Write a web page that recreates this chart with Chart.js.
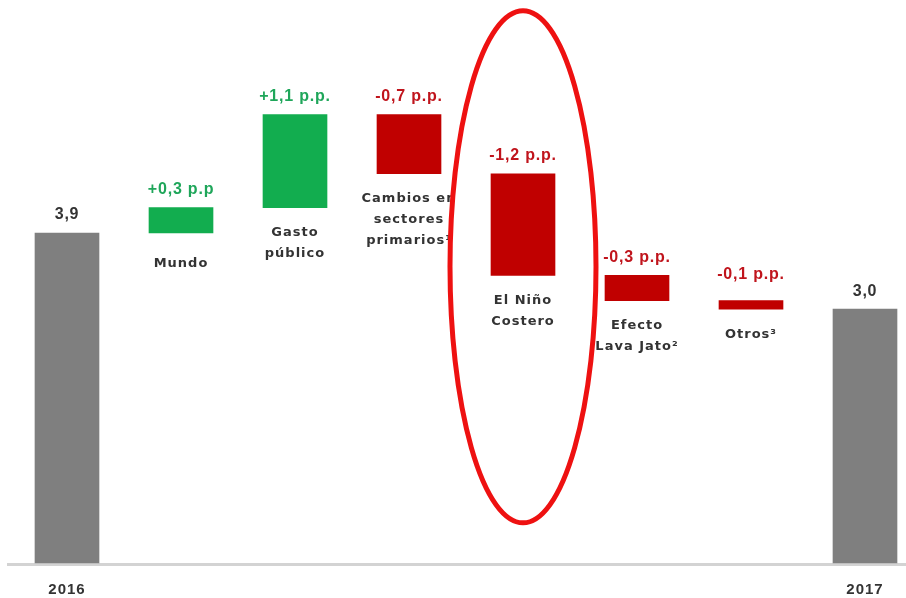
<!DOCTYPE html>
<html>
<head>
<meta charset="utf-8">
<script src="https://cdn.jsdelivr.net/npm/chart.js@4"></script>
<style>
  html, body { margin: 0; padding: 0; background: #fff; }
  #wrap { width: 906px; height: 598px; }
</style>
</head>
<body>
<div id="wrap"><canvas id="myChart" width="906" height="598"></canvas></div>
<script>
// waterfall data
const categories = ["2016", "Mundo", "Gasto público", "Cambios en sectores primarios", "El Niño Costero", "Efecto Lava Jato", "Otros", "2017"];
const startValue = 3.9;
const changes = [0.3, 1.1, -0.7, -1.2, -0.3, -0.1];
const endValue = 3.0;
const valueLabels = ["3,9", "+0,3 p.p", "+1,1 p.p.", "-0,7 p.p.", "-1,2 p.p.", "-0,3 p.p.", "-0,1 p.p.", "3,0"];
const nameLabels = [
  [],
  ["Mundo"],
  ["Gasto", "público"],
  ["Cambios en", "sectores", "primarios¹"],
  ["El Niño", "Costero"],
  ["Efecto", "Lava Jato²"],
  ["Otros³"],
  []
];
const highlighted = 4;

// build floating bars
const ranges = [[0, startValue]];
let running = startValue;
changes.forEach((c) => {
  ranges.push([running, running + c]);
  running += c;
});
ranges.push([0, endValue]);

const colors = ranges.map((r, i) => {
  if (i === 0 || i === ranges.length - 1) return "#7f7f7f";
  return r[1] > r[0] ? "#12ad4f" : "#c00000";
});
const textColors = ranges.map((r, i) => {
  if (i === 0 || i === ranges.length - 1) return "#333333";
  return r[1] > r[0] ? "#1fa65a" : "#c0141c";
});

const labelPlugin = {
  id: "labels",
  beforeDatasetsDraw(chart) {
    const ctx = chart.ctx;
    const y = chart.scales.y;
    const y0 = y.getPixelForValue(0);
    ctx.save();
    ctx.fillStyle = "#d3d3d3";
    ctx.fillRect(7, y0, 899, 3);
    ctx.restore();
  },
  afterDatasetsDraw(chart) {
    const ctx = chart.ctx;
    const x = chart.scales.x;
    const y = chart.scales.y;
    ctx.save();
    ctx.textAlign = "center";
    ctx.textBaseline = "middle";
    ranges.forEach((r, i) => {
      const cx = x.getPixelForValue(i);
      const top = y.getPixelForValue(Math.max(r[0], r[1]));
      const bottom = y.getPixelForValue(Math.min(r[0], r[1]));
      ctx.font = "bold 16px 'Liberation Sans', Arial, sans-serif";
      ctx.letterSpacing = "0.8px";
      ctx.fillStyle = textColors[i];
      const lift = i === 6 ? 26 : 18;
      ctx.fillText(valueLabels[i], cx, top - lift);
      ctx.font = "bold 13px 'DejaVu Sans', Verdana, sans-serif";
      ctx.letterSpacing = "1px";
      ctx.fillStyle = "#333333";
      const extra = i === 1 ? 6 : 0;
      nameLabels[i].forEach((line, k) => {
        ctx.fillText(line, cx, bottom + 25 + extra + k * 21);
      });
    });
    // year labels under the axis
    ctx.font = "bold 15px 'Liberation Sans', Arial, sans-serif";
    ctx.letterSpacing = "1px";
    ctx.fillStyle = "#333333";
    const yb = y.getPixelForValue(0) + 27;
    ctx.fillText(categories[0], x.getPixelForValue(0), yb);
    ctx.fillText(categories[7], x.getPixelForValue(7), yb);
    // red ellipse around El Niño
    ctx.beginPath();
    ctx.strokeStyle = "#ee1111";
    ctx.lineWidth = 5;
    ctx.ellipse(x.getPixelForValue(highlighted), y.getPixelForValue(3.5), 73, 256, 0, 0, Math.PI * 2);
    ctx.stroke();
    ctx.restore();
  },
};

const ctx = document.getElementById("myChart").getContext("2d");
let waterfall = new Chart(ctx, {
  type: "bar",
  data: {
    labels: categories,
    datasets: [
      {
        data: ranges,
        backgroundColor: colors,
        borderWidth: 0,
        borderSkipped: false,
        barThickness: 64,
        clip: false,
      },
    ],
  },
  options: {
    responsive: false,
    animation: false,
    layout: { padding: { left: 67, right: 41, top: 13, bottom: 35 } },
    plugins: { legend: { display: false }, tooltip: { enabled: false } },
    scales: {
      x: { display: false, offset: false },
      y: { display: false, min: 0, max: 6.5 },
    },
  },
  plugins: [labelPlugin],
});
</script>
</body>
</html>
